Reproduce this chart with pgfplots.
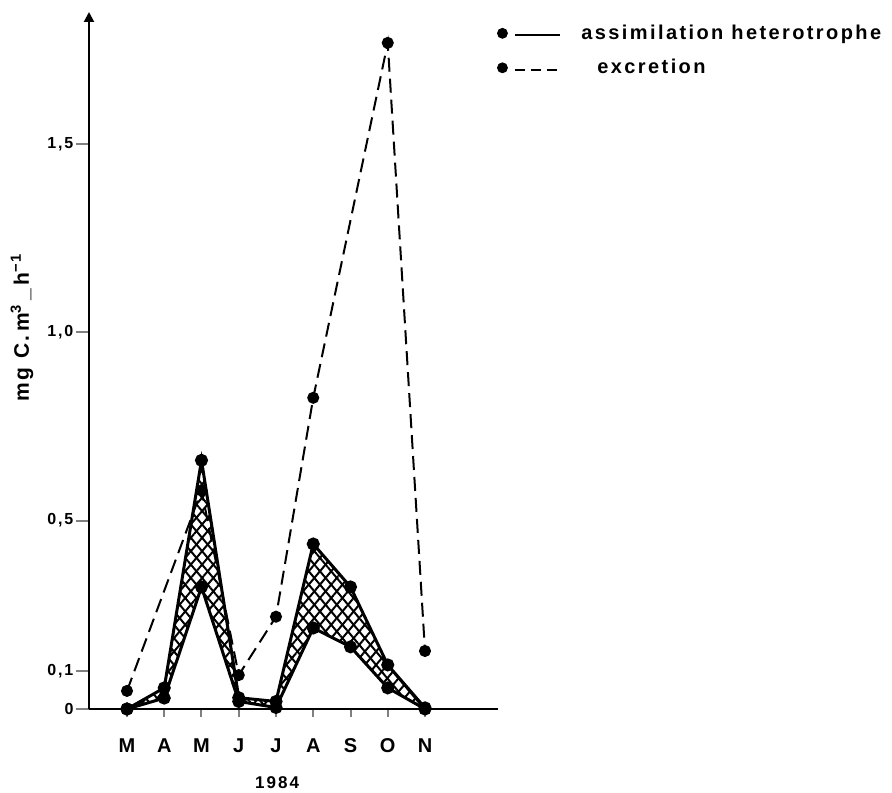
\documentclass[border=0pt]{standalone}
\usepackage{fontspec}
\setmainfont{Liberation Sans}
\newfontfamily\lab[LetterSpace=12]{Liberation Sans}
\usepackage{pgfplots}
\pgfplotsset{compat=1.18}
\usepgfplotslibrary{fillbetween}
\usetikzlibrary{patterns.meta,arrows.meta}

\begin{document}
\begin{tikzpicture}
\begin{axis}[
  at={(44.5pt,41.5pt)}, anchor=south west,
  scale only axis, width=204.5pt, height=348.5pt,
  set layers, clip=false,
  xmin=-1.02, xmax=9.96, ymin=0, ymax=1.85,
  axis x line=bottom, axis y line=left,
  axis line style={line width=1pt},
  x axis line style={-},
  y axis line style={-{Triangle[length=5pt,width=5pt]}},
  xtick={0,...,8}, xticklabels={M,A,M,J,J,A,S,O,N},
  ytick={0,0.1,0.5,1,1.5}, yticklabels={0,{0,1},{0,5},{1,0},{1,5}},
  tick align=outside,
  xtick style={line width=1pt, /pgfplots/major tick length=4pt},
  ytick style={line width=1pt, /pgfplots/major tick length=6.5pt},
  xticklabel style={font=\lab\bfseries\fontsize{10}{11}\selectfont, yshift=-7pt},
  yticklabel style={font=\lab\bfseries\fontsize{8}{9}\selectfont},
  xlabel={1984},
  every axis x label/.style={at={(axis description cs:0.46,-0.105)}, anchor=center,
    font=\lab\bfseries\fontsize{8.5}{10}\selectfont},
  ylabel={mg C.\,m\textsuperscript{3}\,\_\,h\textsuperscript{−1}},
  every axis y label/.style={at={(axis description cs:-0.164,0.548)}, anchor=center, rotate=90,
    font=\lab\bfseries\fontsize{10.5}{12}\selectfont},
  legend style={at={(axis description cs:0.982,0.994)}, anchor=north west,
    draw=none, fill=none, row sep=4.5pt, column sep=8pt,
    font=\lab\bfseries\fontsize{10}{11}\selectfont},
  legend cell align=left,
]
% assimilation heterotrophe: upper and lower curves
\addplot[name path=up, line width=1.5pt, mark=*, mark size=2.5pt, forget plot] coordinates {
  (0,0) (1,0.056) (2,0.66) (3,0.03) (4,0.02) (5,0.438) (6,0.324) (7,0.117) (8,0.003)};
\addplot[name path=lo, line width=1.5pt, mark=*, mark size=2.5pt, forget plot] coordinates {
  (0,0) (1,0.029) (2,0.324) (3,0.02) (4,0.004) (5,0.215) (6,0.165) (7,0.056) (8,0)};
\addplot[pattern={Lines[angle=50,distance=4.3pt,line width=1pt]}, draw=none, forget plot]
  fill between[of=up and lo];
\addplot[pattern={Lines[angle=-50,distance=4.3pt,line width=1pt]}, draw=none, forget plot]
  fill between[of=up and lo];
% excretion
\addplot[line width=1pt, dash pattern=on 7pt off 3.5pt, mark=*, mark size=2.5pt,
  mark options={solid}, forget plot] coordinates {
  (0,0.048) (2,0.58) (3,0.09) (4,0.245) (5,0.826) (7,1.768) (8,0.154)};
\addlegendimage{legend image code/.code={\fill (0pt,0pt) circle (2.5pt);
  \draw[line width=1pt] (6.5pt,-1pt) -- (29pt,-1pt);}}
\addlegendentry{assimilation heterotrophe}
\addlegendimage{legend image code/.code={\fill (0pt,0pt) circle (2.5pt);
  \draw[line width=1pt, dash pattern=on 5pt off 3pt] (6.5pt,-1pt) -- (29pt,-1pt);}}
\addlegendentry{\hspace{8pt}excretion}
\end{axis}
\pgfresetboundingbox
\path[use as bounding box] (0pt,0pt) rectangle (446pt,396pt);
\end{tikzpicture}
\end{document}
